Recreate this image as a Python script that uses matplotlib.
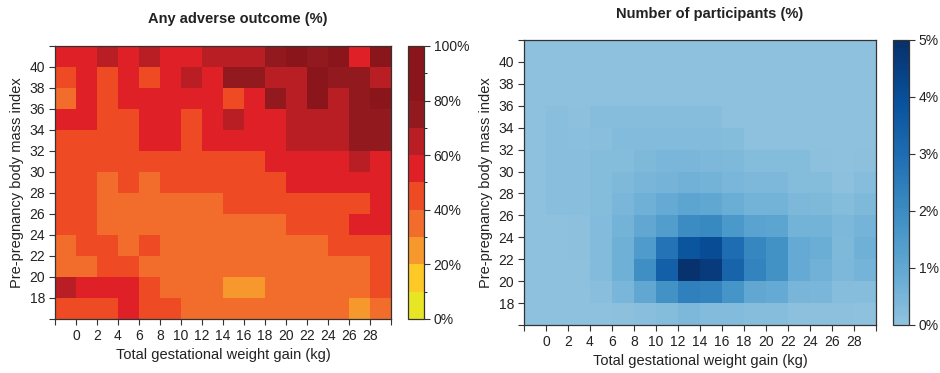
import numpy as np
import matplotlib
matplotlib.use('Agg')
import matplotlib.pyplot as plt
from matplotlib.colors import ListedColormap, BoundaryNorm, LinearSegmentedColormap

plt.rcParams['font.family'] = ['Liberation Sans', 'DejaVu Sans']

# Bin edges: gestational weight gain (kg) and pre-pregnancy BMI
gain_edges = [-2, 0, 2, 4, 6, 8, 10, 12, 14, 16, 18, 20, 22, 24, 26, 28, 30]
bmi_edges = [16, 18, 20, 22, 24, 26, 28, 30, 32, 34, 36, 38, 40, 42]

# Any adverse outcome (%), rows listed from BMI 40-42 down to 16-18
adverse = [
    [55, 55, 65, 55, 65, 55, 55, 65, 65, 65, 75, 85, 75, 85, 55, 85],
    [45, 55, 45, 55, 45, 55, 65, 55, 75, 75, 65, 65, 85, 75, 75, 65],
    [35, 55, 45, 55, 55, 55, 55, 55, 45, 55, 75, 65, 85, 65, 75, 85],
    [55, 55, 45, 45, 55, 55, 45, 55, 65, 55, 55, 65, 65, 65, 75, 75],
    [45, 45, 45, 45, 55, 55, 45, 55, 55, 55, 55, 65, 65, 65, 75, 75],
    [45, 45, 45, 45, 45, 45, 45, 45, 45, 45, 55, 55, 55, 55, 65, 55],
    [45, 45, 35, 45, 35, 45, 45, 45, 45, 45, 45, 55, 55, 55, 55, 55],
    [45, 45, 35, 35, 35, 35, 35, 35, 45, 45, 45, 45, 45, 45, 45, 55],
    [45, 45, 35, 35, 35, 35, 35, 35, 35, 35, 35, 45, 45, 45, 55, 55],
    [35, 45, 45, 35, 45, 35, 35, 35, 35, 35, 35, 35, 35, 45, 45, 45],
    [35, 35, 45, 45, 35, 35, 35, 35, 35, 35, 35, 35, 35, 35, 35, 45],
    [65, 55, 55, 55, 45, 35, 35, 35, 25, 25, 35, 35, 35, 35, 35, 45],
    [45, 45, 45, 55, 45, 45, 35, 35, 35, 35, 35, 35, 35, 35, 25, 35],
]

# Share of participants (%), same row order
participants = [
    [0.05] * 16,
    [0.05] * 16,
    [0.05] * 16,
    [0.05, 0.15, 0.08, 0.2, 0.2, 0.2, 0.2, 0.2, 0.2, 0.05, 0.05, 0.05, 0.05, 0.05, 0.05, 0.05],
    [0.05, 0.15, 0.12, 0.15, 0.3, 0.3, 0.3, 0.3, 0.3, 0.25, 0.05, 0.05, 0.05, 0.05, 0.05, 0.05],
    [0.05, 0.15, 0.15, 0.25, 0.25, 0.35, 0.45, 0.45, 0.4, 0.35, 0.25, 0.25, 0.25, 0.1, 0.05, 0.1],
    [0.05, 0.15, 0.15, 0.25, 0.35, 0.5, 0.55, 0.65, 0.6, 0.45, 0.4, 0.4, 0.25, 0.25, 0.1, 0.2],
    [0.05, 0.15, 0.15, 0.25, 0.45, 0.7, 0.9, 1.1, 1.05, 0.8, 0.6, 0.6, 0.4, 0.35, 0.25, 0.35],
    [0.05, 0.05, 0.1, 0.3, 0.6, 1.0, 1.4, 2.0, 2.1, 1.6, 1.2, 1.1, 0.6, 0.6, 0.4, 0.55],
    [0.05, 0.05, 0.1, 0.3, 0.7, 1.5, 2.8, 3.8, 4.1, 3.0, 2.2, 1.8, 0.9, 0.8, 0.35, 0.7],
    [0.05, 0.05, 0.05, 0.3, 0.7, 1.9, 3.4, 4.9, 4.6, 3.3, 2.3, 1.8, 0.9, 0.65, 0.4, 0.55],
    [0.05, 0.05, 0.05, 0.15, 0.45, 1.0, 1.8, 2.4, 2.3, 1.7, 1.0, 0.9, 0.5, 0.45, 0.2, 0.2],
    [0.05, 0.05, 0.05, 0.05, 0.1, 0.15, 0.25, 0.4, 0.3, 0.3, 0.2, 0.2, 0.1, 0.1, 0.1, 0.05],
]

adverse_ticks = [0, 20, 40, 60, 80, 100]
participant_ticks = [0, 1, 2, 3, 4, 5]

# Stepped colour scale for the outcome rate (10 % bands)
outcome_cmap = ListedColormap(['#E8E624', '#FDC926', '#F6982B', '#F26D2C', '#EE4A24',
                               '#E02027', '#B91E24', '#921A1E', '#8A151A', '#8A151A'])
outcome_norm = BoundaryNorm(np.arange(0, 101, 10), outcome_cmap.N)

# Upper part of Blues for the participant share
count_cmap = LinearSegmentedColormap.from_list(
    'blues_upper', plt.cm.Blues(np.linspace(0.41, 1.0, 256)))

fig = plt.figure(figsize=(9.4, 3.73), dpi=100)

dark = '#333333'
txt = '#222222'


def style_axes(ax):
    ax.set_xlim(gain_edges[0], gain_edges[-1])
    ax.set_ylim(bmi_edges[0], bmi_edges[-1])
    ax.set_xticks(gain_edges)
    ax.set_xticklabels(['' if g in (gain_edges[0], gain_edges[-1]) else str(g) for g in gain_edges])
    ax.set_yticks(bmi_edges)
    ax.set_yticklabels(['' if b in (bmi_edges[0], bmi_edges[-1]) else str(b) for b in bmi_edges])
    ax.tick_params(direction='out', length=4, width=0.8, color=dark,
                   labelsize=10, labelcolor=txt, pad=3)
    for s in ax.spines.values():
        s.set_color(dark)
        s.set_linewidth(0.9)
    ax.set_xlabel('Total gestational weight gain (kg)', fontsize=10.5, color=txt, labelpad=4)
    ax.set_ylabel('Pre-pregnancy body mass index', fontsize=10.5, color=txt, labelpad=4)


def style_cbar(cb, labels):
    cb.set_ticks(labels)
    cb.ax.set_yticklabels(labels)
    cb.ax.tick_params(direction='out', length=4, width=0.8, color=dark,
                      labelsize=10, labelcolor=txt, pad=3)
    cb.outline.set_edgecolor(dark)
    cb.outline.set_linewidth(0.9)


# Left panel: any adverse outcome
ax1 = fig.add_axes([0.0585, 0.1448, 0.3574, 0.7319])
m1 = ax1.pcolormesh(gain_edges, bmi_edges, np.array(adverse)[::-1],
                    cmap=outcome_cmap, norm=outcome_norm)
style_axes(ax1)
cax1 = fig.add_axes([0.434, 0.1448, 0.017, 0.7319])
cb1 = fig.colorbar(m1, cax=cax1)
style_cbar(cb1, adverse_ticks)
cb1.ax.set_yticklabels([f'{t}%' for t in adverse_ticks])
fig.text(238 / 940, 1 - 19 / 373, 'Any adverse outcome (%)', ha='center', va='center',
         fontsize=10.5, fontweight='bold', color=txt)

# Right panel: participant distribution
ax2 = fig.add_axes([0.5574, 0.1287, 0.3745, 0.7641])
m2 = ax2.pcolormesh(gain_edges, bmi_edges, np.array(participants)[::-1],
                    cmap=count_cmap, vmin=0, vmax=5)
style_axes(ax2)
cax2 = fig.add_axes([0.95, 0.1287, 0.017, 0.7641])
cb2 = fig.colorbar(m2, cax=cax2)
style_cbar(cb2, participant_ticks)
cb2.ax.set_yticklabels([f'{t}%' for t in participant_ticks])
fig.text(710 / 940, 1 - 14 / 373, 'Number of participants (%)', ha='center', va='center',
         fontsize=10.5, fontweight='bold', color=txt)

fig.savefig('out.png', dpi=100)
